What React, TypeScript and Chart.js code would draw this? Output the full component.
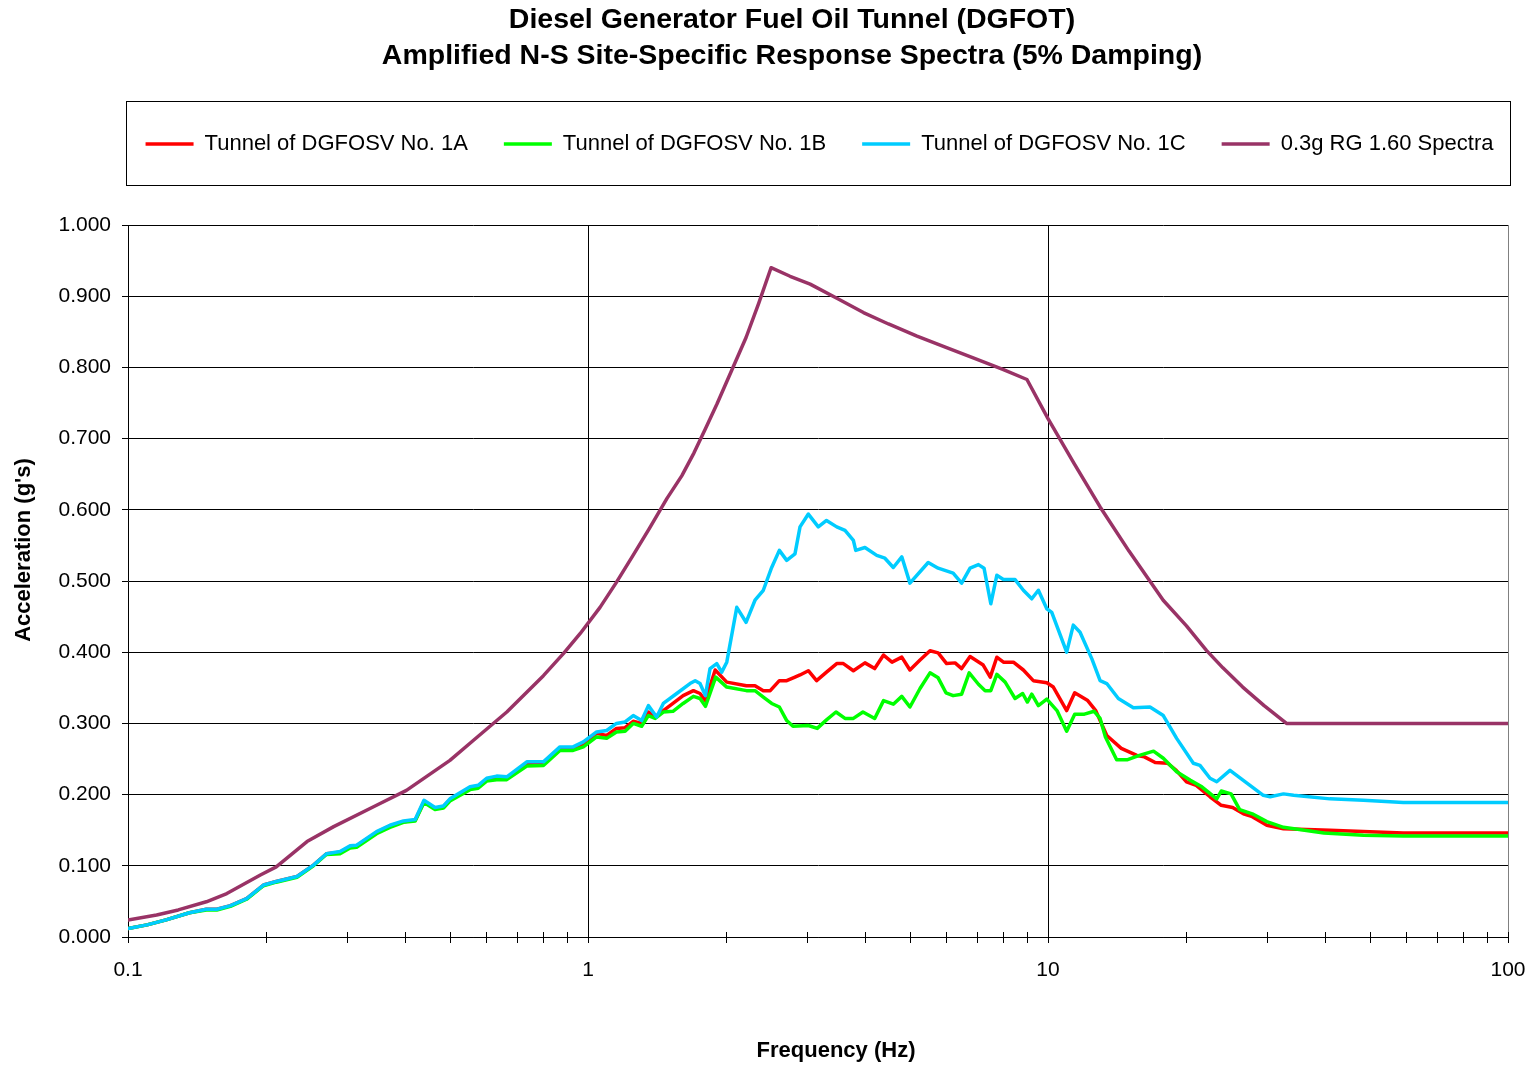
import React, { useEffect, useRef } from 'react';
import { Chart, registerables } from 'chart.js';

Chart.register(...registerables);

const FONT = '"Liberation Sans", Arial, Helvetica, sans-serif';

const chartTitle = ['Diesel Generator Fuel Oil Tunnel (DGFOT)', 'Amplified N-S Site-Specific Response Spectra (5% Damping)'];
const xAxisTitle = 'Frequency (Hz)';
const yAxisTitle = "Acceleration (g's)";
const seriesLabels = ['Tunnel of DGFOSV No. 1A', 'Tunnel of DGFOSV No. 1B', 'Tunnel of DGFOSV No. 1C', '0.3g RG 1.60 Spectra'];
const seriesColors = ['#FF0000', '#00FF00', '#00CCFF', '#993366'];

const xMajorTicks = [0.1, 1, 10, 100];
const xMajorTickLabels = ['0.1', '1', '10', '100'];
const yTicks = [0, 0.1, 0.2, 0.3, 0.4, 0.5, 0.6, 0.7, 0.8, 0.9, 1.0];
const yTickLabels = ['0.000', '0.100', '0.200', '0.300', '0.400', '0.500', '0.600', '0.700', '0.800', '0.900', '1.000'];

// Tunnel of DGFOSV No. 1A (red)
const freq1A = [0.1, 0.11, 0.121, 0.136, 0.148, 0.156, 0.167, 0.181, 0.197, 0.21, 0.233, 0.253, 0.27, 0.289, 0.304, 0.314, 0.347, 0.371, 0.397, 0.421, 0.44, 0.465, 0.485, 0.501, 0.554, 0.577, 0.602, 0.633, 0.666, 0.736, 0.8, 0.869, 0.928, 0.977,
  1.044, 1.098, 1.153, 1.204, 1.254, 1.308, 1.353, 1.4, 1.458, 1.53, 1.61, 1.695, 1.752, 1.8, 1.89, 2.003, 2.21, 2.307, 2.405, 2.49, 2.606, 2.704, 2.818, 2.89, 3.013, 3.14, 3.3, 3.473, 3.59, 3.775, 4.0, 4.2, 4.39, 4.58, 4.81, 5.01, 5.27, 5.54, 5.77, 6.02, 6.28, 6.49, 6.77, 7.23, 7.49, 7.74, 8.0, 8.41, 8.84, 9.29, 9.94, 10.27, 10.98, 11.43, 12.2, 12.7, 13.42, 14.43, 15.6, 16.2, 17.1, 18.2, 19.0, 20.0, 21.0, 22.5, 23.8, 25.2, 26.6, 27.8, 29.9, 32.5, 41.0, 59.2, 100];
const acc1A = [0.012, 0.017, 0.024, 0.034, 0.039, 0.039, 0.044, 0.054, 0.073, 0.078, 0.085, 0.101, 0.117, 0.119, 0.127, 0.128, 0.147, 0.156, 0.162, 0.164, 0.19, 0.181, 0.183, 0.193, 0.209, 0.211, 0.221, 0.224, 0.223, 0.243, 0.243, 0.264, 0.264, 0.271,
  0.286, 0.283, 0.293, 0.294, 0.303, 0.3, 0.316, 0.309, 0.318, 0.328, 0.339, 0.346, 0.342, 0.332, 0.375, 0.358, 0.353, 0.353, 0.346, 0.346, 0.36, 0.36, 0.365, 0.368, 0.374, 0.36, 0.372, 0.384, 0.384, 0.374, 0.385, 0.377, 0.396, 0.386, 0.393, 0.375, 0.389, 0.402, 0.399, 0.384, 0.385, 0.377, 0.394, 0.382, 0.365, 0.393, 0.386, 0.386, 0.375, 0.36, 0.357, 0.351, 0.318, 0.343, 0.332, 0.318, 0.283, 0.265, 0.255, 0.253, 0.245, 0.244, 0.234, 0.218, 0.213, 0.197, 0.185, 0.182, 0.173, 0.169, 0.157, 0.152, 0.15, 0.146, 0.146];

// Tunnel of DGFOSV No. 1B (green)
const freq1B = [0.1, 0.11, 0.121, 0.136, 0.148, 0.156, 0.167, 0.181, 0.197, 0.21, 0.233, 0.253, 0.27, 0.289, 0.304, 0.314, 0.347, 0.371, 0.397, 0.421, 0.44, 0.465, 0.485, 0.501, 0.554, 0.577, 0.602, 0.633, 0.666, 0.736, 0.8, 0.869, 0.928, 0.977,
  1.044, 1.098, 1.153, 1.204, 1.254, 1.308, 1.353, 1.4, 1.458, 1.53, 1.61, 1.695, 1.752, 1.8, 1.895, 2.003, 2.21, 2.307, 2.405, 2.508, 2.606, 2.704, 2.79, 3.013, 3.15, 3.3, 3.46, 3.62, 3.775, 3.96, 4.2, 4.39, 4.61, 4.81, 5.01, 5.27, 5.54, 5.77, 6.0, 6.22, 6.49, 6.74, 7.06, 7.3, 7.51, 7.74, 8.07, 8.48, 8.81, 9.02, 9.22, 9.53, 9.94, 10.46, 10.98, 11.43, 12.0, 12.6, 12.98, 13.33, 14.1, 14.9, 15.8, 16.96, 17.81, 19.04, 20.4, 21.6, 23.27, 23.8, 25.0, 26.1, 27.8, 29.9, 32.5, 39.8, 48.5, 59.2, 100];
const acc1B = [0.012, 0.017, 0.024, 0.034, 0.038, 0.038, 0.043, 0.053, 0.072, 0.077, 0.084, 0.1, 0.116, 0.117, 0.125, 0.126, 0.145, 0.154, 0.161, 0.163, 0.189, 0.179, 0.181, 0.191, 0.207, 0.209, 0.219, 0.221, 0.221, 0.24, 0.241, 0.262, 0.262, 0.267,
  0.281, 0.279, 0.288, 0.289, 0.3, 0.296, 0.311, 0.307, 0.316, 0.317, 0.328, 0.338, 0.335, 0.324, 0.365, 0.351, 0.346, 0.346, 0.337, 0.328, 0.323, 0.304, 0.296, 0.297, 0.293, 0.305, 0.316, 0.307, 0.307, 0.316, 0.307, 0.332, 0.327, 0.338, 0.323, 0.349, 0.371, 0.364, 0.343, 0.339, 0.341, 0.371, 0.355, 0.346, 0.346, 0.369, 0.358, 0.335, 0.342, 0.33, 0.341, 0.325, 0.334, 0.318, 0.289, 0.313, 0.313, 0.317, 0.307, 0.281, 0.249, 0.249, 0.255, 0.261, 0.251, 0.232, 0.22, 0.211, 0.194, 0.205, 0.201, 0.179, 0.173, 0.162, 0.154, 0.146, 0.143, 0.142, 0.142];

// Tunnel of DGFOSV No. 1C (cyan)
const freq1C = [0.1, 0.11, 0.121, 0.136, 0.148, 0.156, 0.167, 0.181, 0.197, 0.21, 0.233, 0.253, 0.27, 0.289, 0.304, 0.314, 0.347, 0.371, 0.397, 0.421, 0.44, 0.465, 0.485, 0.501, 0.554, 0.577, 0.602, 0.633, 0.666, 0.736, 0.8, 0.869, 0.928, 0.977,
  1.044, 1.098, 1.153, 1.204, 1.254, 1.308, 1.353, 1.41, 1.458, 1.559, 1.666, 1.71, 1.752, 1.8, 1.842, 1.905, 1.953, 2.003, 2.106, 2.206, 2.307, 2.405, 2.508, 2.606, 2.704, 2.818, 2.89, 3.013, 3.167, 3.3, 3.473, 3.62, 3.775, 3.82, 4.0, 4.243, 4.42, 4.61, 4.81, 5.01, 5.49, 5.77, 6.22, 6.49, 6.77, 7.06, 7.26, 7.51, 7.74, 8.0, 8.48, 8.84, 9.22, 9.53, 9.94, 10.19, 10.98, 11.35, 11.74, 12.45, 12.98, 13.42, 14.22, 15.33, 16.66, 17.81, 19.04, 20.7, 21.4, 22.5, 23.27, 24.87, 26.58, 29.38, 30.4, 32.5, 34.2, 41.0, 48.5, 59.2, 100];
const acc1C = [0.012, 0.017, 0.024, 0.034, 0.039, 0.039, 0.044, 0.054, 0.073, 0.078, 0.085, 0.101, 0.117, 0.12, 0.128, 0.129, 0.148, 0.157, 0.163, 0.165, 0.192, 0.182, 0.184, 0.194, 0.211, 0.213, 0.223, 0.226, 0.225, 0.246, 0.246, 0.267, 0.267, 0.274,
  0.288, 0.29, 0.3, 0.302, 0.311, 0.304, 0.325, 0.309, 0.328, 0.342, 0.356, 0.36, 0.356, 0.339, 0.377, 0.384, 0.372, 0.386, 0.463, 0.442, 0.473, 0.487, 0.519, 0.543, 0.529, 0.538, 0.576, 0.594, 0.576, 0.585, 0.576, 0.571, 0.557, 0.543, 0.547, 0.536, 0.532, 0.519, 0.534, 0.497, 0.526, 0.518, 0.511, 0.497, 0.518, 0.523, 0.518, 0.468, 0.508, 0.502, 0.502, 0.487, 0.475, 0.487, 0.461, 0.456, 0.4, 0.438, 0.428, 0.391, 0.36, 0.356, 0.335, 0.322, 0.323, 0.311, 0.279, 0.244, 0.241, 0.223, 0.218, 0.234, 0.22, 0.199, 0.197, 0.201, 0.199, 0.194, 0.192, 0.189, 0.189];

// 0.3g RG 1.60 Spectra (purple)
const freqRG = [0.1, 0.1154, 0.1286, 0.148, 0.164, 0.194, 0.21, 0.245, 0.28, 0.347, 0.403, 0.501, 0.563, 0.666, 0.8, 0.884, 0.961, 1.062, 1.15, 1.25, 1.36, 1.485, 1.6, 1.7, 1.8, 1.908, 2.05, 2.206, 2.35, 2.5, 2.75, 3.04, 3.5, 3.97, 4.5, 5.19, 6.0, 6.9, 8.0, 9.0, 10.0, 11.4, 12.98, 15.0, 17.8, 20.0, 22.1, 24.0, 26.5, 29.5, 33.0, 100];
const accRG = [0.024, 0.031, 0.038, 0.0495, 0.061, 0.087, 0.0985, 0.134, 0.155, 0.185, 0.206, 0.248, 0.276, 0.316, 0.367, 0.398, 0.426, 0.463, 0.497, 0.535, 0.574, 0.616, 0.648, 0.68, 0.714, 0.749, 0.795, 0.842, 0.89, 0.94, 0.928, 0.917, 0.896, 0.877, 0.861, 0.844, 0.828, 0.813, 0.797, 0.783, 0.728, 0.665, 0.604, 0.542, 0.473, 0.437, 0.4025, 0.378, 0.351, 0.325, 0.3, 0.3];

const xMinorMultipliers = [2, 3, 4, 5, 6, 7, 8, 9];
const allXTicks: number[] = [];
xMajorTicks.forEach((d, i) => {
  allXTicks.push(d);
  if (i < xMajorTicks.length - 1) xMinorMultipliers.forEach((m) => allXTicks.push(d * m));
});
const xGridValues = xMajorTicks.slice(1, -1);

const toPoints = (xs: number[], ys: number[]) => xs.map((x, i) => ({ x, y: ys[i] }));

const decorPlugin = {
  id: 'decor',
  afterLayout(chart: any) {
    // shift the legend's centring band so the items sit over the plot like the reference
    if (chart.legend) chart.legend.left = 106;
  },
  afterDraw(chart: any) {
    const { ctx, chartArea, scales } = chart;
    ctx.save();
    // legend frame
    ctx.strokeStyle = '#000';
    ctx.lineWidth = 1;
    ctx.strokeRect(chartArea.left - 1.5, 101.5, chartArea.right - chartArea.left + 4, 84);
    // right plot border
    ctx.strokeStyle = '#808080';
    ctx.beginPath();
    ctx.moveTo(Math.round(chartArea.right) + 0.5, chartArea.top);
    ctx.lineTo(Math.round(chartArea.right) + 0.5, chartArea.bottom);
    ctx.stroke();
    // x tick marks crossing axis
    ctx.strokeStyle = '#000';
    ctx.beginPath();
    allXTicks.forEach((v) => {
      const px = Math.round(scales.x.getPixelForValue(v)) + 0.5;
      ctx.moveTo(px, chartArea.bottom - 5);
      ctx.lineTo(px, chartArea.bottom + 6);
    });
    ctx.stroke();
    // titles
    ctx.fillStyle = '#000';
    ctx.textAlign = 'center';
    ctx.textBaseline = 'alphabetic';
    ctx.font = `bold 28.5px ${FONT}`;
    ctx.fillText(chartTitle[0], 792, 28);
    ctx.fillText(chartTitle[1], 792, 64);
    ctx.font = `bold 22px ${FONT}`;
    ctx.fillText(xAxisTitle, 836, 1057);
    ctx.translate(30, 550);
    ctx.rotate(-Math.PI / 2);
    ctx.fillText(yAxisTitle, 0, 0);
    ctx.restore();
  },
};

export default function App() {
  const canvasRef = useRef<HTMLCanvasElement | null>(null);

  useEffect(() => {
    const canvas = canvasRef.current;
    if (!canvas) return;
    const chart = new Chart(canvas, {
      type: 'line',
      data: {
        datasets: [
          { label: seriesLabels[0], data: toPoints(freq1A, acc1A), borderColor: seriesColors[0], backgroundColor: seriesColors[0], order: 3 },
          { label: seriesLabels[1], data: toPoints(freq1B, acc1B), borderColor: seriesColors[1], backgroundColor: seriesColors[1], order: 2 },
          { label: seriesLabels[2], data: toPoints(freq1C, acc1C), borderColor: seriesColors[2], backgroundColor: seriesColors[2], order: 1 },
          { label: seriesLabels[3], data: toPoints(freqRG, accRG), borderColor: seriesColors[3], backgroundColor: seriesColors[3], order: 0 },
        ].map((d) => ({ ...d, borderWidth: 3.5, pointRadius: 0, tension: 0, fill: false, borderJoinStyle: 'round' as const, borderCapStyle: 'round' as const })),
      },
      options: {
        responsive: false,
        animation: false,
        devicePixelRatio: 1,
        layout: { padding: { top: 97, right: 0, bottom: 0, left: 0 } },
        plugins: {
          title: { display: false },
          subtitle: { display: true, text: '', weight: 500, padding: { top: 50, bottom: 0 }, font: { size: 10, lineHeight: 1 } },
          tooltip: { enabled: false },
          legend: {
            display: true,
            position: 'top',
            fullSize: true,
            align: 'center',
            labels: {
              usePointStyle: true,
              pointStyle: 'line',
              pointStyleWidth: 48,
              padding: 36,
              color: '#000',
              font: { family: FONT, size: 22 },
              sort: (a: any, b: any) => a.datasetIndex - b.datasetIndex,
            },
          },
        },
        scales: {
          x: {
            type: 'logarithmic',
            min: 0.1,
            max: 100,
            afterBuildTicks: (scale: any) => {
              scale.ticks = allXTicks.map((v) => ({ value: v }));
            },
            afterFit: (scale: any) => {
              scale.height = 128;
              scale.paddingRight = 25;
              scale.paddingLeft = 0;
            },
            ticks: {
              autoSkip: false,
              maxRotation: 0,
              padding: 21,
              color: '#000',
              font: { family: FONT, size: 21 },
              callback: (value: any) => {
                const v = Number(value);
                const i = xMajorTicks.findIndex((t) => Math.abs(t - v) < t * 1e-6);
                return i >= 0 ? xMajorTickLabels[i] : '';
              },
            },
            grid: {
              drawTicks: false,
              lineWidth: 1,
              color: (c: any) => {
                const v = c.tick ? c.tick.value : NaN;
                return xGridValues.some((g) => Math.abs(g - v) < g * 1e-6) ? '#000' : 'rgba(0,0,0,0)';
              },
            },
            border: { display: true, color: '#000', width: 1 },
          },
          y: {
            type: 'linear',
            min: 0,
            max: 1,
            afterBuildTicks: (scale: any) => {
              scale.ticks = yTicks.map((v) => ({ value: v }));
            },
            afterFit: (scale: any) => {
              scale.width = 128;
            },
            ticks: {
              padding: 11,
              color: '#000',
              font: { family: FONT, size: 21 },
              callback: (value: any) => {
                const v = Number(value);
                const i = yTicks.findIndex((t) => Math.abs(t - v) < 1e-6);
                return i >= 0 ? yTickLabels[i] : '';
              },
            },
            grid: { color: '#000', lineWidth: 1, drawTicks: true, tickLength: 6 },
            border: { display: true, color: '#000', width: 1 },
          },
        },
      },
      plugins: [decorPlugin],
    } as any);
    return () => chart.destroy();
  }, []);

  return (
    <div style={{ position: 'absolute', left: 0, top: 0, width: 1533, height: 1065, background: '#fff' }}>
      <canvas ref={canvasRef} width={1533} height={1065} style={{ display: 'block', width: 1533, height: 1065 }} />
    </div>
  );
}
